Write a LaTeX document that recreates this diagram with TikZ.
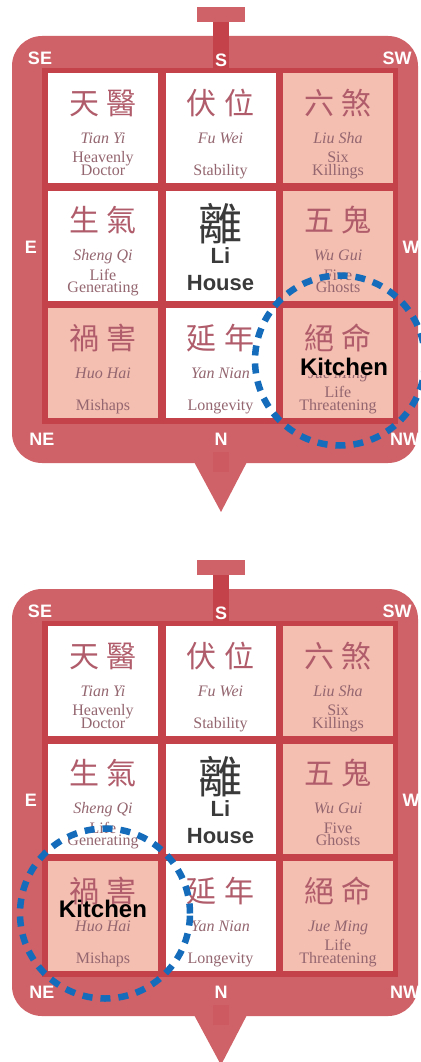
\documentclass[tikz,border=0pt]{standalone}
\usepackage{fontspec}
\setmainfont{Liberation Serif}
\setsansfont{Liberation Sans}
\newfontfamily\zhfont{Noto Sans CJK TC}
\usetikzlibrary{positioning}

\definecolor{framered}{RGB}{207,98,104}
\definecolor{gridred}{RGB}{196,66,74}
\definecolor{cellpink}{RGB}{244,190,176}
\definecolor{zhred}{RGB}{176,92,106}
\definecolor{textgray}{RGB}{148,102,112}
\definecolor{inkgray}{RGB}{58,58,58}
\definecolor{ringblue}{RGB}{20,108,186}

\begin{document}
\begin{tikzpicture}[x=1pt,y=-1pt,
cell/.style={minimum width=110pt,minimum height=110pt,inner sep=0pt},
zh/.style={font=\zhfont\fontsize{30}{32}\selectfont,text=zhred,inner sep=0pt},
py/.style={font=\itshape\fontsize{16}{16}\selectfont,text=textgray,anchor=base,inner sep=0pt},
en/.style={font=\fontsize{16}{16}\selectfont,text=textgray,anchor=base,inner sep=0pt},
dir/.style={font=\sffamily\bfseries\fontsize{18}{18}\selectfont,text=white,inner sep=0pt},
bigsans/.style={font=\sffamily\bfseries\fontsize{22}{22}\selectfont,anchor=base,inner sep=0pt},
kit/.style={font=\sffamily\bfseries\fontsize{24}{24}\selectfont,anchor=base,inner sep=0pt},
ring/.style={circle,draw=ringblue,line width=6.5pt,dash pattern=on 10pt off 8pt,minimum size=170pt}]
\useasboundingbox (0,0) rectangle (420,1062);

\foreach \p/\oy/\kc/\kx/\ky/\kf in {1/0/nw/6/12/cellpink,2/553/ne/0/1/none}{
\begin{scope}[shift={(0,\oy)}]
% compass frame, pointer and tab
\fill[framered] (193,460) -- (248,460) -- (221,512) -- cycle;
\fill[framered,rounded corners=30pt] (12,36) rectangle (418,463);
\fill[framered] (197,7) rectangle (245,22);
\fill[gridred] (213,22) rectangle (229,68);
\fill[gridred!25!framered] (213,452) rectangle (229,472);
\fill[gridred] (42,68) rectangle (398,424);

% the nine sectors
\foreach \n/\cx/\cy/\bg/\zha/\zhb/\py/\ena/\enb in {
  se/103/128/white/天/醫/Tian Yi/Heavenly/Doctor,
  s/220.5/128/white/伏/位/Fu Wei//Stability,
  sw/338/128/cellpink/六/煞/Liu Sha/Six/Killings,
  e/103/245.5/white/生/氣/Sheng Qi/Life/Generating,
  w/338/245.5/cellpink/五/鬼/Wu Gui/Five/Ghosts,
  ne/103/363/cellpink/禍/害/Huo Hai//Mishaps,
  n/220.5/363/white/延/年/Yan Nian//Longevity,
  nw/338/363/cellpink/絕/命/Jue Ming/Life/Threatening}{
  \node[cell,fill=\bg] (c-\n-\p) at (\cx,\cy) {};
  \node[zh] (zh-\n-\p) at ([yshift=25pt]c-\n-\p.center) {\zha\hspace{8pt}\zhb};
  \node[py] (py-\n-\p) at ([yshift=-15pt]c-\n-\p.center) {\py};
  \node[en] (eb-\n-\p) at ([yshift=-47pt]c-\n-\p.center) {\enb};
  \node[en] (ea-\n-\p) at ([yshift=-34.5pt]c-\n-\p.center) {\ena};
}
\node[cell,fill=white] (c-mid-\p) at (220.5,245.5) {};
\node[zh,font=\zhfont\fontsize{44}{44}\selectfont,text=inkgray] (zh-mid-\p) at ([yshift=22pt]c-mid-\p.center) {離};
\node[bigsans,text=inkgray] (li-\p) at ([yshift=-17.5pt]c-mid-\p.center) {Li};
\node[bigsans,text=inkgray] (house-\p) at ([yshift=-44.5pt]c-mid-\p.center) {House};

% compass points
\foreach \d/\x/\y in {SE/40/58,S/221/60,SW/397/58,E/31/247,W/411/247,NE/42/439,N/221/439,NW/405/439}
  \node[dir] (l-\d-\p) at (\x,\y) {\d};

% kitchen marker
\node[kit,fill=\kf] (kitchen-\p) at ([xshift=\kx pt,yshift=-\ky pt]c-\kc-\p.center) {Kitchen};
\node[ring] (ring-\p) at ([xshift=2pt,yshift=2.5pt]c-\kc-\p.center) {};
\end{scope}
}
\end{tikzpicture}
\end{document}
